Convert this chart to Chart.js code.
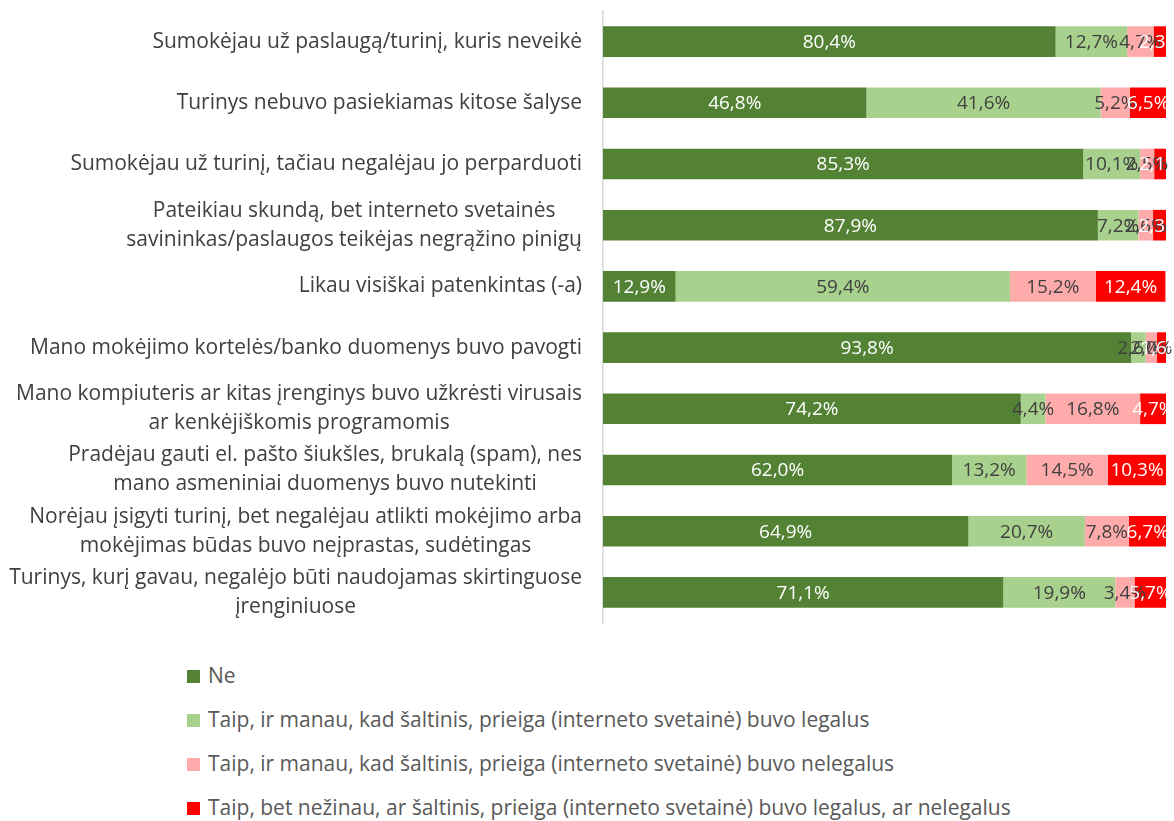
<!DOCTYPE html>
<html>
<head>
<meta charset="utf-8">
<script src="https://cdn.jsdelivr.net/npm/chart.js@4"></script>
<style>
  body { margin: 0; background: #fff; }
  #wrap { position: relative; width: 1174px; height: 821px; }
  #chart { position: absolute; left: 0; top: 0; }
  #legend { position: absolute; left: 187px; top: 661px; font: 21px "Open Sans", Arial, sans-serif; color: #595959; }
  .item { height: 44px; line-height: 28px; white-space: nowrap; }
  .box { display: inline-block; width: 13px; height: 13px; margin-right: 8px; vertical-align: 0px; }
</style>
</head>
<body>
<div id="wrap">
  <canvas id="chart" width="1174" height="640"></canvas>
  <div id="legend"></div>
</div>
<script>
const categories = [
  ['Sumokėjau už paslaugą/turinį, kuris neveikė'],
  ['Turinys nebuvo pasiekiamas kitose šalyse'],
  ['Sumokėjau už turinį, tačiau negalėjau jo perparduoti'],
  ['Pateikiau skundą, bet interneto svetainės', 'savininkas/paslaugos teikėjas negrąžino pinigų'],
  ['Likau visiškai patenkintas (-a)'],
  ['Mano mokėjimo kortelės/banko duomenys buvo pavogti'],
  ['Mano kompiuteris ar kitas įrenginys buvo užkrėsti virusais', 'ar kenkėjiškomis programomis'],
  ['Pradėjau gauti el. pašto šiukšles, brukalą (spam), nes', 'mano asmeniniai duomenys buvo nutekinti'],
  ['Norėjau įsigyti turinį, bet negalėjau atlikti mokėjimo arba', 'mokėjimas būdas buvo neįprastas, sudėtingas'],
  ['Turinys, kurį gavau, negalėjo būti naudojamas skirtinguose', 'įrenginiuose']
];

const seriesNames = [
  'Ne',
  'Taip, ir manau, kad šaltinis, prieiga (interneto svetainė) buvo legalus',
  'Taip, ir manau, kad šaltinis, prieiga (interneto svetainė) buvo nelegalus',
  'Taip, bet nežinau, ar šaltinis, prieiga (interneto svetainė) buvo legalus, ar nelegalus'
];

const ne      = [80.4, 46.8, 85.3, 87.9, 12.9, 93.8, 74.2, 62.0, 64.9, 71.1];
const legal   = [12.7, 41.6, 10.1, 7.2, 59.4, 2.6, 4.4, 13.2, 20.7, 19.9];
const illegal = [4.7, 5.2, 2.5, 2.6, 15.2, 2.0, 16.8, 14.5, 7.8, 3.4];
const unknown = [2.3, 6.5, 2.1, 2.3, 12.4, 1.6, 4.7, 10.3, 6.7, 5.7];

const colors = ['#548235', '#a9d18e', '#ffabab', '#ff0000'];
const labelColors = ['#ffffff', '#404040', '#404040', '#ffffff'];
const FONT = '"Open Sans", Arial, sans-serif';

// value labels in the middle of each segment
const valueLabels = {
  id: 'valueLabels',
  afterDatasetsDraw(chart) {
    const ctx = chart.ctx;
    ctx.save();
    ctx.font = '19px ' + FONT;
    ctx.textAlign = 'center';
    ctx.textBaseline = 'middle';
    chart.data.datasets.forEach((ds, i) => {
      chart.getDatasetMeta(i).data.forEach((bar, j) => {
        const x = (bar.x + bar.base) / 2;
        ctx.fillStyle = labelColors[i];
        ctx.fillText(ds.data[j].toFixed(1).replace('.', ',') + '%', x, bar.y + 1);
      });
    });
    ctx.restore();
  }
};

// category labels: block right-aligned, lines centred within the block
const catLabels = {
  id: 'catLabels',
  afterDraw(chart) {
    const ctx = chart.ctx;
    const y = chart.scales.y;
    ctx.save();
    ctx.font = '21px ' + FONT;
    ctx.fillStyle = '#404040';
    ctx.textAlign = 'center';
    ctx.textBaseline = 'middle';
    const right = 582, lh = 29;
    categories.forEach((lines, i) => {
      const w = Math.max(...lines.map(l => ctx.measureText(l).width));
      const cx = right - w / 2;
      const cy = y.getPixelForTick(i) - (lines.length - 1) * lh / 2;
      lines.forEach((l, k) => ctx.fillText(l, cx, cy + k * lh));
    });
    ctx.restore();
  }
};

const series = [ne, legal, illegal, unknown];

new Chart(document.getElementById('chart'), {
  type: 'bar',
  data: {
    labels: categories,
    datasets: series.map((d, i) => ({
      label: seriesNames[i],
      data: d,
      backgroundColor: colors[i],
      borderWidth: 0,
      barPercentage: 0.5,
      categoryPercentage: 1
    }))
  },
  options: {
    indexAxis: 'y',
    responsive: false,
    animation: false,
    layout: { padding: { top: 11, bottom: 17, right: 8, left: 0 } },
    plugins: { legend: { display: false }, tooltip: { enabled: false } },
    scales: {
      x: { stacked: true, min: 0, max: 100, display: false },
      y: {
        stacked: true,
        grid: { display: false },
        border: { display: true, color: '#d9d9d9', width: 1.5 },
        ticks: { display: false },
        afterFit(scale) { scale.width = 603; }
      }
    }
  },
  plugins: [valueLabels, catLabels]
});

// legend
const legend = document.getElementById('legend');
seriesNames.forEach((name, i) => {
  const row = document.createElement('div');
  row.className = 'item';
  row.innerHTML = '<span class="box" style="background:' + colors[i] + '"></span>' + name;
  legend.appendChild(row);
});
</script>
</body>
</html>
